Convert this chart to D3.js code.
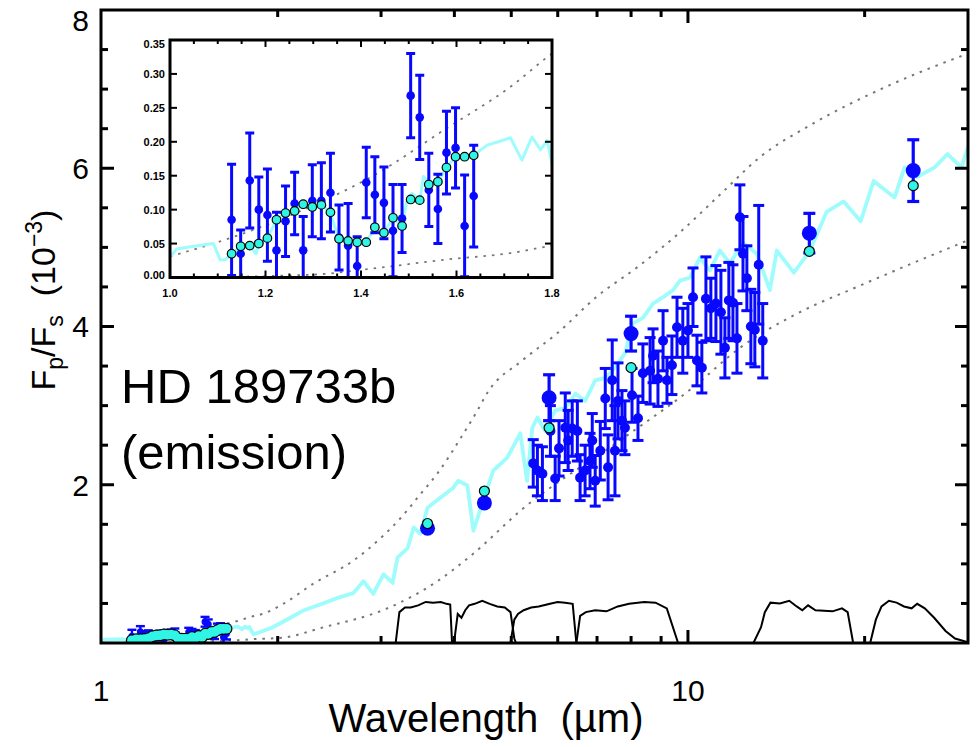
<!DOCTYPE html>
<head>
<meta charset="utf-8">
<title>HD 189733b emission</title>
<style>
  body { margin: 0; padding: 0; background: #fff; }
  text { font-family: 'Liberation Sans', Arial, sans-serif; fill: #000; white-space: pre; }
  .inset text { font-weight: bold; font-size: 11px; }
</style>
</head>
<body>
<div id="vis"></div>
<script src="https://cdn.jsdelivr.net/npm/d3@7"></script>
<script>
// ---- data (Fp/Fs in units of 1e-3, wavelength in micron) ----
// WFC3 binned spectrum + binned model
var wfc3Wl = [1.129,1.148,1.167,1.186,1.204,1.223,1.242,1.261,1.279,1.298,1.317,1.336,1.354,1.373,
              1.392,1.411,1.429,1.448,1.467,1.486,1.504,1.523,1.542,1.561,1.579,1.598,1.617,1.636];
var wfc3Fp = [0.085,0.035,0.143,0.100,0.092,0.040,0.083,0.109,0.040,0.113,0.113,0.125,0.059,0.047,
              0.017,0.140,0.122,0.110,0.069,0.087,0.268,0.236,0.129,0.101,0.184,0.191,0.076,0.120];
var wfc3Err = [0.082,0.035,0.070,0.048,0.068,0.056,0.052,0.046,0.050,0.053,0.056,0.058,0.048,0.062,
               0.043,0.052,0.056,0.053,0.068,0.050,0.062,0.062,0.054,0.051,0.061,0.059,0.075,0.075];
var wfc3Model = [0.035,0.046,0.047,0.050,0.058,0.085,0.095,0.098,0.108,0.104,0.107,0.096,0.057,0.054,
                 0.052,0.052,0.074,0.066,0.088,0.076,0.115,0.114,0.137,0.141,0.162,0.178,0.178,0.180];

// IRS spectrum
var irsWl = [5.45,5.54,5.65,5.83,5.94,6.03,6.18,6.25,6.35,6.48,6.55,6.68,6.81,6.87,6.95,7.09,7.23,7.31,
             7.43,7.51,7.60,7.72,7.81,8.03,8.22,8.38,8.62,8.72,8.89,9.07,9.21,9.39,9.58,9.80,10.0,10.20,
             10.36,10.56,10.73,10.94,11.16,11.38,11.56,11.74,11.93,12.12,12.26,12.41,12.60,12.80,13.00,13.20,13.41];
var irsFp = [2.27,2.18,2.14,2.68,2.08,2.46,2.72,2.56,2.71,2.68,2.09,2.18,2.30,2.56,2.05,2.43,3.09,2.22,
             3.32,2.43,3.06,2.81,2.72,3.13,2.84,3.41,3.44,3.63,3.34,3.82,3.32,3.51,3.99,3.82,3.95,4.37,
             3.57,3.48,4.35,4.23,4.29,4.18,3.73,4.33,4.30,3.85,5.38,4.92,4.61,4.00,3.96,4.78,3.82];
var irsErr = [0.30,0.32,0.34,0.32,0.28,0.35,0.44,0.38,0.35,0.38,0.29,0.32,0.35,0.34,0.32,0.37,0.38,0.41,
              0.51,0.57,0.48,0.38,0.34,0.34,0.28,0.37,0.42,0.34,0.35,0.38,0.29,0.37,0.38,0.41,0.34,0.37,
              0.32,0.32,0.53,0.38,0.48,0.53,0.38,0.48,0.48,0.44,0.41,0.47,0.41,0.47,0.47,0.75,0.47];

// broadband photometry + band-averaged model
var photWl = [3.6, 4.5, 5.8, 8.0, 16.1, 24.2];
var photFp = [1.45, 1.77, 3.10, 3.91, 5.18, 5.97];
var photErr = [0.03, 0.04, 0.29, 0.22, 0.25, 0.39];
var photModel = [1.51, 1.92, 2.72, 3.48, 4.95, 5.78];

// model spectrum
var modelSpec = [[1.00,0.030],[1.014,0.042],[1.05,0.046],[1.091,0.050],[1.105,0.026],[1.115,0.026],[1.13,0.035],
  [1.148,0.045],[1.167,0.047],[1.18,0.035],[1.186,0.050],[1.204,0.058],[1.223,0.085],[1.242,0.095],[1.261,0.098],
  [1.279,0.108],[1.298,0.104],[1.317,0.107],[1.336,0.096],[1.345,0.075],[1.354,0.057],[1.373,0.054],[1.392,0.052],
  [1.411,0.052],[1.426,0.070],[1.448,0.066],[1.467,0.088],[1.486,0.076],[1.495,0.110],[1.507,0.124],[1.523,0.114],
  [1.531,0.149],[1.545,0.137],[1.561,0.141],[1.579,0.162],[1.598,0.178],[1.617,0.178],[1.636,0.180],[1.664,0.195],
  [1.688,0.200],[1.713,0.206],[1.737,0.173],[1.758,0.207],[1.776,0.188],[1.79,0.202],[1.80,0.168],[1.82,0.11],
  [1.95,0.19],[2.08,0.30],[2.21,0.41],[2.37,0.49],[2.53,0.57],[2.69,0.63],[2.80,0.78],[2.91,0.62],[3.03,0.87],
  [3.14,0.76],[3.20,1.08],[3.33,1.20],[3.41,1.46],[3.50,1.38],[3.60,1.71],[3.79,1.84],[3.98,1.96],[4.06,2.05],
  [4.21,1.99],[4.31,1.42],[4.48,1.80],[4.66,2.18],[4.92,2.34],[5.18,2.65],[5.32,2.05],[5.43,2.72],[5.54,2.85],
  [5.71,2.68],[5.94,2.94],[6.18,2.97],[6.43,3.15],[6.68,3.06],[6.95,3.32],[7.23,3.35],[7.51,3.48],[7.81,3.66],
  [8.06,4.04],[8.38,4.11],[8.72,4.29],[9.07,4.37],[9.43,4.46],[9.69,4.58],[10.08,4.62],[10.48,4.87],[10.90,4.71],
  [11.33,4.96],[11.79,4.80],[12.41,5.06],[13.10,4.92],[13.79,4.46],[14.17,4.96],[15.15,4.68],[16.12,4.95],
  [17.23,5.45],[18.42,5.58],[19.69,5.33],[20.72,5.84],[22.49,5.63],[23.39,6.01],[24.61,5.89],[26.31,6.01],
  [27.68,6.18],[29.24,6.01],[30.0,6.27]];

// dotted limiting curves
var hotLimit = [[1.0,0.031],[1.154,0.065],[1.293,0.104],[1.433,0.153],[1.573,0.217],[1.713,0.281],[1.8,0.33],
  [1.89,0.37],[2.05,0.50],[2.3,0.75],[2.69,1.04],[3.0,1.33],[3.24,1.58],[3.5,1.88],[3.74,2.14],[4.1,2.59],
  [4.38,2.94],[4.55,3.16],[5.22,3.57],[6.0,3.92],[7.0,4.38],[8.2,4.75],[9.69,5.19],[11.5,5.71],[13.26,6.14],
  [16.12,6.54],[22.06,7.05],[30,7.45]];
var coldLimit = [[1.0,0.0],[1.293,0.004],[1.433,0.014],[1.573,0.026],[1.713,0.036],[1.8,0.047],[2.05,0.07],
  [2.37,0.19],[3.08,0.44],[3.74,0.78],[4.31,1.13],[5.18,1.67],[7.66,2.56],[10.2,3.23],[12.26,3.73],
  [15.32,4.16],[19.69,4.52],[30,5.09]];

// filter response curves (scaled)
var filterCurves = [
  [[3.177,0],[3.224,0.39],[3.295,0.448],[3.370,0.448],[3.470,0.476],[3.575,0.519],[3.681,0.51],[3.793,0.519],[3.877,0.495],[3.935,0.486],[3.964,0]],
  [[3.994,0],[4.053,0.367],[4.113,0.319],[4.174,0.414],[4.237,0.476],[4.331,0.495],[4.462,0.533],[4.595,0.495],[4.733,0.462],[4.875,0.448],[4.985,0.39],[5.060,0.057],[5.095,0]],
  [[4.985,0],[5.060,0.295],[5.133,0.367],[5.249,0.414],[5.405,0.448],[5.568,0.462],[5.821,0.495],[5.997,0.519],[6.176,0.51],[6.362,0.495],[6.455,0]],
  [[6.455,0],[6.551,0.343],[6.699,0.39],[6.950,0.414],[7.265,0.4],[7.593,0.462],[7.939,0.495],[8.425,0.519],[8.806,0.51],[9.204,0.438],[9.621,0]],
  [[12.93,0],[13.32,0.2],[13.52,0.39],[13.82,0.51],[14.34,0.5],[14.88,0.533],[15.32,0.462],[15.66,0.414],[16.02,0.476],[16.49,0.414],[17.63,0.4],[18.30,0.438],[18.71,0.39],[19.12,0]],
  [[20.44,0],[20.90,0.295],[21.37,0.462],[22.00,0.533],[22.67,0.51],[23.34,0.462],[24.05,0.438],[24.58,0.495],[25.32,0.438],[26.27,0.319],[27.47,0.152],[28.51,0.057],[30.0,0.01]]
];

var yTicks = [2, 4, 6, 8];
var xTickLabels = [1, 10];
var insetYTicks = [0, 0.05, 0.10, 0.15, 0.20, 0.25, 0.30, 0.35];
var insetXTicks = [1.0, 1.2, 1.4, 1.6, 1.8];

// ---- layout ----
var W = 979, H = 747,
    mLeft = 101, mRight = 968, mTop = 10, mBottom = 643;
var blue = '#0808ff', cyanLine = '#9ffcfc', cyanDot = '#30f5e5', dotGrey = '#777';

var svg = d3.select('#vis').append('svg').attr('width', W).attr('height', H);
var defs = svg.append('defs');

var x = d3.scaleLog().domain([1, 30]).range([mLeft, mRight]);
var y = d3.scaleLinear().domain([0, 8]).range([mBottom, mTop]);

defs.append('clipPath').attr('id', 'mainClip').append('rect')
  .attr('x', mLeft).attr('y', mTop).attr('width', mRight - mLeft).attr('height', mBottom - mTop);

var main = svg.append('g').attr('clip-path', 'url(#mainClip)');
var line = d3.line().x(function(d) { return x(d[0]); }).y(function(d) { return y(d[1]); });

// filters
main.selectAll('path.filter').data(filterCurves).enter().append('path')
  .attr('class', 'filter').attr('d', line)
  .attr('fill', 'none').attr('stroke', '#000').attr('stroke-width', 2);

// limits
main.selectAll('path.limit').data([hotLimit, coldLimit]).enter().append('path')
  .attr('class', 'limit')
  .attr('d', line.curve(d3.curveMonotoneX))
  .attr('fill', 'none').attr('stroke', dotGrey).attr('stroke-width', 2).attr('stroke-dasharray', '2.5,6');
line.curve(d3.curveLinear);

// model
main.append('path').datum(modelSpec).attr('d', line)
  .attr('fill', 'none').attr('stroke', cyanLine).attr('stroke-width', 3.8).attr('stroke-linejoin', 'round');

function errorBars(g, wl, fp, err, xs, ys, width, cap) {
  var bars = g.append('g').attr('stroke', blue).attr('stroke-width', width);
  wl.forEach(function(w, i) {
    var cx = xs(w), y0 = ys(fp[i] - err[i]), y1 = ys(fp[i] + err[i]);
    bars.append('line').attr('x1', cx).attr('x2', cx).attr('y1', y0).attr('y2', y1);
    bars.append('line').attr('x1', cx - cap).attr('x2', cx + cap).attr('y1', y0).attr('y2', y0);
    bars.append('line').attr('x1', cx - cap).attr('x2', cx + cap).attr('y1', y1).attr('y2', y1);
  });
}
function dots(g, wl, vals, xs, ys, r, fill, stroke) {
  g.append('g').selectAll('circle').data(wl).enter().append('circle')
    .attr('cx', function(d) { return xs(d); })
    .attr('cy', function(d, i) { return ys(vals[i]); })
    .attr('r', r).attr('fill', fill)
    .attr('stroke', stroke || 'none').attr('stroke-width', stroke ? 1.2 : 0);
}

// WFC3 at main scale: outline drawn first so the overlapping circles merge into one band
errorBars(main, wfc3Wl, wfc3Fp, wfc3Err, x, y, 2.4, 4.5);
dots(main, wfc3Wl, wfc3Fp, x, y, 3.5, blue);
dots(main, wfc3Wl, wfc3Model, x, y, 6, '#000');
dots(main, wfc3Wl, wfc3Model, x, y, 4.8, cyanDot);

// IRS
errorBars(main, irsWl, irsFp, irsErr, x, y, 3, 5.5);
dots(main, irsWl, irsFp, x, y, 5, blue);

// photometry
errorBars(main, photWl, photFp, photErr, x, y, 3.2, 6);
dots(main, photWl, photFp, x, y, 7.5, blue);
dots(main, photWl, photModel, x, y, 5, cyanDot, '#000');

// main axes
svg.append('rect').attr('x', mLeft).attr('y', mTop).attr('width', mRight - mLeft).attr('height', mBottom - mTop)
  .attr('fill', 'none').attr('stroke', '#000').attr('stroke-width', 3);

var ticks = svg.append('g').attr('stroke', '#000').attr('stroke-width', 3);
d3.range(0.5, 8, 0.5).forEach(function(v) {
  var len = (v % 2 === 0) ? 13 : 7;
  ticks.append('line').attr('x1', mLeft).attr('x2', mLeft + len).attr('y1', y(v)).attr('y2', y(v));
  ticks.append('line').attr('x1', mRight).attr('x2', mRight - len).attr('y1', y(v)).attr('y2', y(v));
});
[2,3,4,5,6,7,8,9,10,20].forEach(function(v) {
  var len = (v === 10) ? 13 : 7;
  ticks.append('line').attr('x1', x(v)).attr('x2', x(v)).attr('y1', mBottom).attr('y2', mBottom - len);
  ticks.append('line').attr('x1', x(v)).attr('x2', x(v)).attr('y1', mTop).attr('y2', mTop + len);
});

svg.append('g').selectAll('text').data(yTicks).enter().append('text')
  .attr('x', 89).attr('y', function(d) { return Math.max(y(d), 20); }).attr('dy', '0.36em')
  .attr('text-anchor', 'end').style('font-size', '30px')
  .text(function(d) { return d; });

svg.append('g').selectAll('text').data(xTickLabels).enter().append('text')
  .attr('x', function(d) { return x(d); }).attr('y', 701)
  .attr('text-anchor', 'middle').style('font-size', '30px')
  .text(function(d) { return d; });

svg.append('text').attr('x', 486).attr('y', 732).attr('text-anchor', 'middle')
  .style('font-size', '40px').text('Wavelength  (\u00b5m)');

var yl = svg.append('text').attr('transform', 'translate(55,300) rotate(-90)')
  .attr('text-anchor', 'middle').style('font-size', '34px');
yl.append('tspan').text('F');
yl.append('tspan').attr('dy', 8).style('font-size', '23px').text('p');
yl.append('tspan').attr('dy', -8).text('/F');
yl.append('tspan').attr('dy', 8).style('font-size', '23px').text('s');
yl.append('tspan').attr('dy', -8).text('  (10');
yl.append('tspan').attr('dy', -13).style('font-size', '23px').text('\u22123');
yl.append('tspan').attr('dy', 13).text(')');

svg.append('text').attr('x', 121).attr('y', 403).style('font-size', '49px').text('HD 189733b');
svg.append('text').attr('x', 121).attr('y', 469).style('font-size', '49px').text('(emission)');

// ---- inset ----
var iL = 170, iR = 552, iT = 40, iB = 277.5;
var xi = d3.scaleLinear().domain([1.0, 1.8]).range([iL, iR]);
var yi = d3.scaleLinear().domain([0, 0.35]).range([iB, iT]);
var inset = svg.append('g').attr('class', 'inset');
inset.append('rect').attr('x', iL).attr('y', iT).attr('width', iR - iL).attr('height', iB - iT).attr('fill', '#fff');

defs.append('clipPath').attr('id', 'insetClip').append('rect')
  .attr('x', iL).attr('y', iT).attr('width', iR - iL).attr('height', iB - iT);
var ip = inset.append('g').attr('clip-path', 'url(#insetClip)');
var iline = d3.line().x(function(d) { return xi(d[0]); }).y(function(d) { return yi(d[1]); });

ip.selectAll('path.limit').data([hotLimit, coldLimit]).enter().append('path')
  .attr('class', 'limit')
  .attr('d', iline.curve(d3.curveMonotoneX))
  .attr('fill', 'none').attr('stroke', dotGrey).attr('stroke-width', 1.8).attr('stroke-dasharray', '2.5,6');
iline.curve(d3.curveLinear);
ip.append('path').datum(modelSpec).attr('d', iline)
  .attr('fill', 'none').attr('stroke', cyanLine).attr('stroke-width', 3).attr('stroke-linejoin', 'round');
errorBars(ip, wfc3Wl, wfc3Fp, wfc3Err, xi, yi, 3, 4.5);
dots(ip, wfc3Wl, wfc3Fp, xi, yi, 4.3, blue);
dots(ip, wfc3Wl, wfc3Model, xi, yi, 4.3, cyanDot, '#000');

inset.append('rect').attr('x', iL).attr('y', iT).attr('width', iR - iL).attr('height', iB - iT)
  .attr('fill', 'none').attr('stroke', '#000').attr('stroke-width', 3);
var iticks = inset.append('g').attr('stroke', '#000').attr('stroke-width', 2);
insetYTicks.forEach(function(v) {
  iticks.append('line').attr('x1', iL).attr('x2', iL + 7).attr('y1', yi(v)).attr('y2', yi(v));
  iticks.append('line').attr('x1', iR).attr('x2', iR - 7).attr('y1', yi(v)).attr('y2', yi(v));
});
d3.range(1.05, 1.8, 0.05).forEach(function(v) {
  var len = (Math.abs(v * 10 % 2) < 0.01 || Math.abs(v * 10 % 2 - 2) < 0.01) ? 7 : 4;
  iticks.append('line').attr('x1', xi(v)).attr('x2', xi(v)).attr('y1', iB).attr('y2', iB - len);
  iticks.append('line').attr('x1', xi(v)).attr('x2', xi(v)).attr('y1', iT).attr('y2', iT + len);
});
inset.append('g').selectAll('text').data(insetYTicks).enter().append('text')
  .attr('x', iL - 5).attr('y', function(d) { return Math.min(Math.max(yi(d), iT + 4), iB - 2); })
  .attr('dy', '0.36em').attr('text-anchor', 'end')
  .text(function(d) { return d.toFixed(2); });
inset.append('g').selectAll('text').data(insetXTicks).enter().append('text')
  .attr('x', function(d) { return xi(d); }).attr('y', 297).attr('text-anchor', 'middle')
  .text(function(d) { return d.toFixed(1); });
</script>
</body>
